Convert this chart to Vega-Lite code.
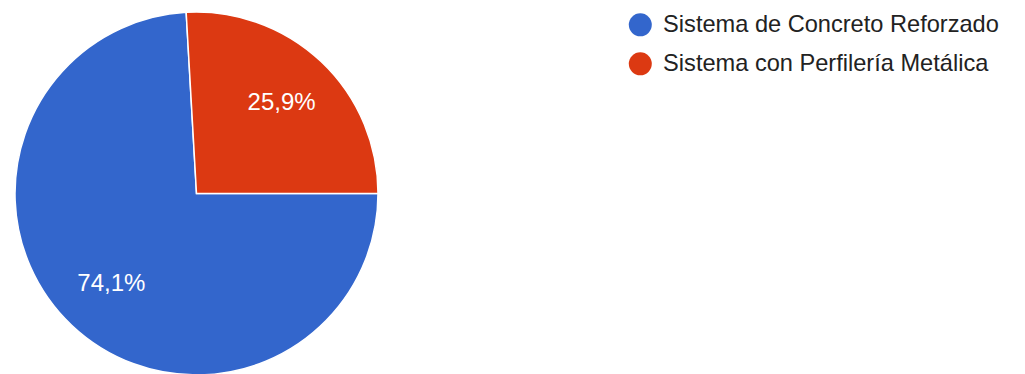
{
  "$schema": "https://vega.github.io/schema/vega-lite/v6.json",
  "width": 393,
  "height": 387,
  "autosize": {"type": "none"},
  "padding": {"left": 0, "top": 0, "right": 632, "bottom": 0},
  "background": "#ffffff",
  "data": {
    "values": [
      {"sistema": "Sistema de Concreto Reforzado", "pct": 74.1, "label": "74,1%"},
      {"sistema": "Sistema con Perfilería Metálica", "pct": 25.9, "label": "25,9%"}
    ]
  },
  "encoding": {
    "theta": {"field": "pct", "type": "quantitative", "stack": true, "scale": {"range": [-0.057, 6.2262]}},
    "order": {"field": "pct", "type": "quantitative", "sort": "ascending"},
    "color": {
      "field": "sistema",
      "type": "nominal",
      "scale": {
        "domain": ["Sistema de Concreto Reforzado", "Sistema con Perfilería Metálica"],
        "range": ["#3366CC", "#DC3912"]
      },
      "legend": {
        "title": null,
        "orient": "none",
        "legendX": 628.5,
        "legendY": 13,
        "padding": 0,
        "symbolType": "circle",
        "symbolSize": 529,
        "symbolStrokeWidth": 0,
        "symbolOpacity": 1,
        "labelFont": "Liberation Sans",
        "labelFontSize": 23.6,
        "labelColor": "#222222",
        "labelOffset": 11,
        "labelLimit": 500,
        "rowPadding": 14
      }
    }
  },
  "layer": [
    {
      "mark": {"type": "arc", "outerRadius": 181.5, "stroke": "#ffffff", "strokeWidth": 1.5}
    },
    {
      "mark": {"type": "text", "radius": 124, "font": "Liberation Sans", "fontSize": 24, "align": "center", "baseline": "middle", "fill": "#ffffff", "color": "#ffffff"},
      "encoding": {
        "text": {"field": "label", "type": "nominal"},
        "color": {"value": "#ffffff"}
      }
    }
  ]
}
